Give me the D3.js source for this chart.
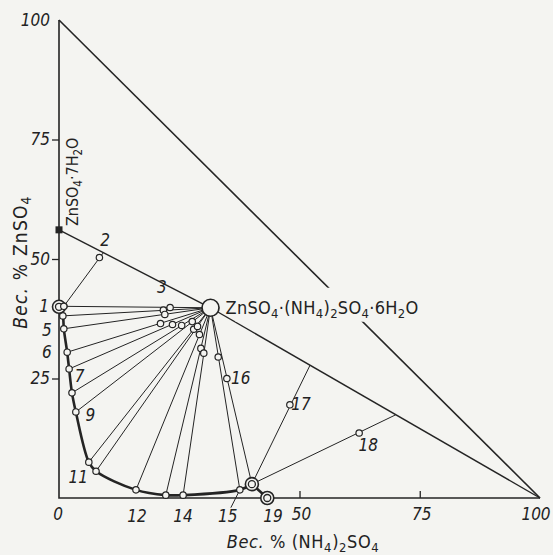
<!DOCTYPE html>
<html>
<head>
<meta charset="UTF-8">
<script src="https://cdn.jsdelivr.net/npm/d3@7"></script>
<style>
    body { margin: 0; background: #f4f4f1; }
    svg { display: block; }
    .num { font-family: "DejaVu Sans Condensed", "DejaVu Sans", sans-serif; font-style: italic; font-size: 17px; fill: #222; }
    .formula { font-family: "DejaVu Sans Condensed", "DejaVu Sans", sans-serif; fill: #222; }
</style>
</head>
<body>
<svg id="chart" width="553" height="555"></svg>
<script>
// wt % (NH4)2SO4 (x) and wt % ZnSO4 (y)

// solubility curve, from ZnSO4 binary point to (NH4)2SO4 binary point
var curveX = [0.0, 0.8, 1.0, 1.7, 2.1, 2.7, 3.5, 6.2, 7.7, 16.0, 22.2, 25.8, 37.6, 40.1];
var curveY = [40.0, 38.1, 35.4, 30.5, 27.0, 22.0, 18.0, 7.5, 5.6, 1.7, 0.6, 0.6, 1.7, 2.9];
var binaryNH4 = [43.3, 0.0];

// tie-lines: liquid -> double salt, with wet residue points
var tieLiqX = [1.0, 0.8, 1.0, 1.7, 2.1, 2.7, 3.5, 6.2, 7.7, 16.0, 22.2, 25.8, 37.6, 40.1];
var tieLiqY = [40.1, 38.1, 35.4, 30.5, 27.0, 22.0, 18.0, 7.5, 5.6, 1.7, 0.6, 0.6, 1.7, 2.9];
var resX = [23.1, 21.7, 22.0, 21.1, 23.6, 25.5, 27.7, 28.0, 28.8, 29.2, 29.5, 30.1, 33.1, 34.9];
var resY = [39.85, 39.3, 38.4, 36.5, 36.3, 36.1, 36.9, 35.3, 35.9, 34.2, 31.3, 30.3, 29.5, 25.0];

// other tie-lines (2, 17, 18): start, end, residue
var extraStartX = [1.0, 40.1, 40.1];
var extraStartY = [40.1, 2.9, 2.9];
var extraEndX = [9.2, 52.2, 70.0];
var extraEndY = [51.3, 27.8, 17.4];
var extraResX = [8.4, 48.0, 62.4];
var extraResY = [50.3, 19.5, 13.6];

// solid phases
var heptahydrate = [0, 56.1];
var doubleSalt = [31.5, 39.8];

// point numbers and where they sit
var labelText = ["1", "2", "3", "5", "6", "7", "9", "11", "12", "14", "15", "16", "17", "18", "19"];
var labelX = [-3.1, 9.6, 21.4, -2.5, -2.5, 4.3, 6.5, 4.0, 16.2, 25.8, 35.1, 37.8, 50.3, 64.3, 44.5];
var labelY = [40.2, 54.0, 44.1, 35.1, 30.5, 25.6, 17.3, 4.3, -3.7, -3.7, -3.7, 25.1, 19.6, 11.0, -3.7];

var yTicks = [25, 50, 75];
var xTicks = [50, 75];
var yTickLabels = [25, 50, 75, 100];
var xTickLabels = [0, 50, 75, 100];

var ink = "#242424", paper = "#f4f4f1";

var svg = d3.select("#chart");
var x = d3.scaleLinear().domain([0, 100]).range([59, 540]);
var y = d3.scaleLinear().domain([0, 100]).range([498, 20]);

function pt(px, py) { return [x(px), y(py)]; }
var line = d3.line();

function addFormula(textSel, str) {
    var parts = str.split(/_(\d)/);
    var shift = 0;
    parts.forEach(function(p, i) {
        if (p === "") return;
        if (i % 2 === 1) {
            textSel.append("tspan").attr("dy", 4).attr("font-size", "0.72em").text(p);
            shift = 4;
        } else {
            textSel.append("tspan").attr("dy", -shift).text(p);
            shift = 0;
        }
    });
}

// axes
var yAxis = d3.axisLeft(y).tickValues(yTicks).tickSize(7).tickFormat("");
svg.append("g").attr("transform", "translate(" + x(0) + ",0)").call(yAxis)
    .call(function(g) { g.select(".domain").remove(); })
    .selectAll("line").attr("stroke", ink).attr("stroke-width", 1.3);
var xAxis = d3.axisTop(x).tickValues(xTicks).tickSize(7).tickFormat("");
svg.append("g").attr("transform", "translate(0," + y(0) + ")").call(xAxis)
    .call(function(g) { g.select(".domain").remove(); })
    .selectAll("line").attr("stroke", ink).attr("stroke-width", 1.3);

var frame = svg.append("g").attr("fill", "none").attr("stroke", ink).attr("stroke-width", 1.6);
frame.append("path").attr("d", line([pt(0, 100), pt(0, 0), pt(100, 0)]));
frame.append("path").attr("d", line([pt(0, 100), pt(100, 0)]));
frame.append("path").attr("stroke-width", 1.4).attr("d", line([pt(heptahydrate[0], heptahydrate[1]), pt(doubleSalt[0], doubleSalt[1])]));
frame.append("path").attr("stroke-width", 1.4).attr("d", line([pt(doubleSalt[0], doubleSalt[1]), pt(100, 0)]));

// tie-lines
var ties = svg.append("g").attr("stroke", ink).attr("stroke-width", 1);
tieLiqX.forEach(function(d, i) {
    ties.append("line")
        .attr("x1", x(d)).attr("y1", y(tieLiqY[i]))
        .attr("x2", x(doubleSalt[0])).attr("y2", y(doubleSalt[1]));
});
extraStartX.forEach(function(d, i) {
    ties.append("line")
        .attr("x1", x(d)).attr("y1", y(extraStartY[i]))
        .attr("x2", x(extraEndX[i])).attr("y2", y(extraEndY[i]));
});
// leader for label 15
ties.append("line")
    .attr("x1", x(tieLiqX[12])).attr("y1", y(tieLiqY[12]))
    .attr("x2", x(labelX[10]) + 3).attr("y2", y(labelY[10]) - 8);

// solubility curve
var curvePts = curveX.map(function(d, i) { return pt(d, curveY[i]); });
svg.append("path")
    .attr("d", d3.line().curve(d3.curveCatmullRom.alpha(0.5))(curvePts))
    .attr("fill", "none").attr("stroke", ink).attr("stroke-width", 2.6);
svg.append("path")
    .attr("d", line([pt(curveX[curveX.length - 1], curveY[curveY.length - 1]), pt(binaryNH4[0], binaryNH4[1])]))
    .attr("fill", "none").attr("stroke", ink).attr("stroke-width", 2.6);

// markers
var marks = svg.append("g").attr("fill", paper).attr("stroke", ink).attr("stroke-width", 1.2);
var smallX = tieLiqX.slice(1, 13).concat(resX, extraResX, [tieLiqX[0]]);
var smallY = tieLiqY.slice(1, 13).concat(resY, extraResY, [tieLiqY[0]]);
marks.selectAll("circle.small").data(smallX).enter().append("circle")
    .attr("class", "small")
    .attr("cx", function(d) { return x(d); })
    .attr("cy", function(d, i) { return y(smallY[i]); })
    .attr("r", 3.2);

var doubles = [[curveX[0], curveY[0]], [tieLiqX[13], tieLiqY[13]], binaryNH4];
doubles.forEach(function(d) {
    marks.append("circle").attr("cx", x(d[0])).attr("cy", y(d[1])).attr("r", 6.5).attr("stroke-width", 1.6);
    marks.append("circle").attr("cx", x(d[0])).attr("cy", y(d[1])).attr("r", 3.5).attr("stroke-width", 1.3);
});
marks.append("circle").attr("cx", x(tieLiqX[0])).attr("cy", y(tieLiqY[0])).attr("r", 3.2);
marks.append("circle").attr("cx", x(doubleSalt[0])).attr("cy", y(doubleSalt[1])).attr("r", 8.5).attr("stroke-width", 1.7);
svg.append("rect")
    .attr("x", x(heptahydrate[0]) - 3.5).attr("y", y(heptahydrate[1]) - 3.5)
    .attr("width", 7).attr("height", 7).attr("fill", ink);

// tick labels
svg.selectAll("text.ylab").data(yTickLabels).enter().append("text")
    .attr("class", "num ylab")
    .attr("x", x(0) - 9)
    .attr("y", function(d) { return y(d); })
    .attr("dy", "0.35em")
    .attr("text-anchor", "end")
    .text(function(d) { return d; });
svg.selectAll("text.xlab").data(xTickLabels).enter().append("text")
    .attr("class", "num xlab")
    .attr("x", function(d) { return x(d) + (d === 0 ? -1 : d === 100 ? -4 : 2); })
    .attr("y", y(0) + 22)
    .attr("text-anchor", "middle")
    .text(function(d) { return d; });

// point numbers
svg.selectAll("text.plab").data(labelText).enter().append("text")
    .attr("class", "num plab")
    .attr("x", function(d, i) { return x(labelX[i]); })
    .attr("y", function(d, i) { return y(labelY[i]); })
    .attr("dy", "0.35em")
    .attr("text-anchor", "middle")
    .text(function(d) { return d; });

// phase labels
var ds = svg.append("text").attr("class", "formula")
    .attr("x", x(doubleSalt[0]) + 15).attr("y", y(doubleSalt[1]) + 6)
    .attr("font-size", 18).attr("letter-spacing", 0.3);
addFormula(ds, "ZnSO_4·(NH_4)_2SO_4·6H_2O");
var bb = ds.node().getBBox();
svg.insert("rect", function() { return ds.node(); })
    .attr("x", bb.x + 10).attr("y", bb.y - 9)
    .attr("width", bb.width).attr("height", bb.height + 10)
    .attr("fill", paper);

var hep = svg.append("text").attr("class", "formula")
    .attr("transform", "translate(" + (x(0) + 19) + "," + (y(heptahydrate[1]) - 48) + ") rotate(-90)")
    .attr("text-anchor", "middle")
    .attr("font-size", 16);
addFormula(hep, "ZnSO_4·7H_2O");

// axis titles
var yt = svg.append("text").attr("class", "formula")
    .attr("transform", "translate(27,262) rotate(-90)")
    .attr("text-anchor", "middle").attr("font-size", 19).attr("letter-spacing", 1.2);
yt.append("tspan").attr("font-style", "italic").text("Вес. ");
addFormula(yt, "% ZnSO_4");

var xt = svg.append("text").attr("class", "formula")
    .attr("x", 303).attr("y", 548)
    .attr("text-anchor", "middle").attr("font-size", 18).attr("letter-spacing", 0.6);
xt.append("tspan").attr("font-style", "italic").text("Вес. ");
addFormula(xt, "% (NH_4)_2SO_4");
</script>
</body>
</html>
